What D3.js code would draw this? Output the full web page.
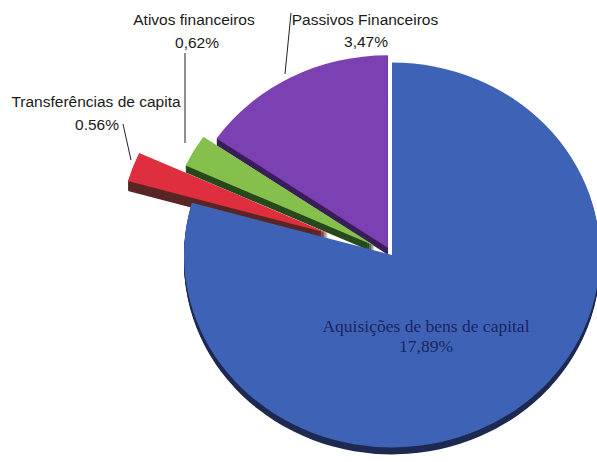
<!DOCTYPE html>
<html><head><meta charset="utf-8">
<script src="https://cdn.jsdelivr.net/npm/d3@7"></script>
<style>body{margin:0;background:#fff}svg{display:block}</style>
</head><body>
<svg id="c" width="597" height="462"></svg>
<script>
const categories = ["Aquisições de bens de capital", "Transferências de capita", "Ativos financeiros", "Passivos Financeiros"];
const values = [17.89, 0.56, 0.62, 3.47];
const valueLabels = ["17,89%", "0.56%", "0,62%", "3,47%"];
const colors = ["#3e63b6", "#df2e3e", "#85bf4c", "#7b40b2"];
const sideColors = ["#1f2a52", "#5a2626", "#274a1c", "#3a1f5a"];
const explode = [0, 68, 20, 9];

const svg = d3.select("#c");
const cx = 392, cy = 255, R = 208, ky = 0.925;
const depths = [7, 10, 7, 7];
const pie = d3.pie().sort(null).value(d => d)(values);
const arc = d3.arc().innerRadius(0).outerRadius(R);

const g = svg.append("g").attr("transform", `translate(${cx},${cy})`);
const off = d => {
  const m = (d.startAngle + d.endAngle) / 2, o = explode[d.index];
  return [Math.sin(m) * o, -Math.cos(m) * o * ky];
};
// sides (thickness)
pie.forEach(d => {
  const [ox, oy] = off(d);
  for (let k = depths[d.index]; k > 0; k -= 1) {
    g.append("path").attr("d", arc(d))
      .attr("transform", `translate(${ox},${oy + k}) scale(1,${ky})`)
      .attr("fill", sideColors[d.index]);
  }
});
// tops
[0, 3, 2, 1].forEach(i => {
  const d = pie[i];
  const [ox, oy] = off(d);
  g.append("path").attr("d", arc(d))
    .attr("transform", `translate(${ox},${oy}) scale(1,${ky})`)
    .attr("fill", colors[i]);
});

const serif = "'Liberation Serif', 'Times New Roman', serif";
const sans = "'Liberation Sans', Arial, sans-serif";
const txt = (x, y, s, size, fam, fill) => svg.append("text").attr("x", x).attr("y", y)
  .attr("text-anchor", "middle").attr("font-family", fam).attr("font-size", size)
  .attr("fill", fill || "#1a1a1a").text(s);

// blue inside label
txt(426, 332, categories[0], 17.5, serif, "#1b2462");
txt(426, 352, valueLabels[0], 17.5, serif, "#1b2462");
// outside labels
txt(194, 25, categories[2], 15.5, sans);
txt(197, 48, valueLabels[2], 15.5, sans);
txt(365, 25, categories[3], 15.5, sans);
txt(366, 47, valueLabels[3], 15.5, sans);
txt(96, 107, categories[1], 15.5, sans);
txt(97, 130, valueLabels[1], 15.5, sans);

// leader lines
const line = (x1, y1, x2, y2) => svg.append("line").attr("x1", x1).attr("y1", y1)
  .attr("x2", x2).attr("y2", y2).attr("stroke", "#222").attr("stroke-width", 1);
line(185, 53, 185, 143);
line(291, 13, 285, 74);
line(123, 124, 131, 160);
</script>
</body></html>
